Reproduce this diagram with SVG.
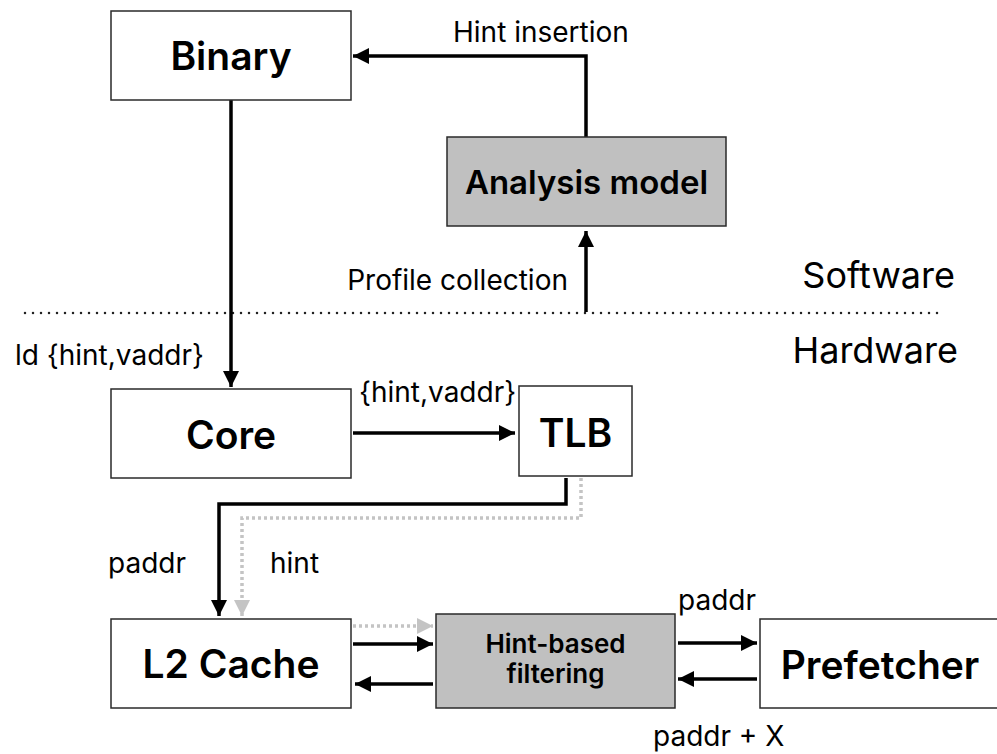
<svg xmlns="http://www.w3.org/2000/svg" width="997" height="754" viewBox="0 0 997 754">
<defs>
<style>
.box{fill:#ffffff;stroke:#2a2a2a;stroke-width:1.5}
.gbox{fill:#c0c0c0;stroke:#2a2a2a;stroke-width:1.5}
.nt{font-family:Inter,"Liberation Sans",sans-serif;font-weight:600;font-size:39px;fill:#000;text-anchor:middle}
.lb{font-family:Inter,"Liberation Sans",sans-serif;font-size:28px;fill:#000}
.big{font-family:Inter,"Liberation Sans",sans-serif;font-size:36px;fill:#000;text-anchor:end}
.ln{fill:none;stroke:#000;stroke-width:3.5}
.gl{fill:none;stroke:#c4c4c4;stroke-width:3.5;stroke-dasharray:3 3}
</style>
<marker id="ah" markerUnits="userSpaceOnUse" markerWidth="18" markerHeight="18" refX="16" refY="8" orient="auto">
<path d="M0,0 L16,8 L0,16 z" fill="#000"/>
</marker>
<marker id="gh" markerUnits="userSpaceOnUse" markerWidth="18" markerHeight="18" refX="16" refY="8" orient="auto">
<path d="M0,0 L16,8 L0,16 z" fill="#c4c4c4"/>
</marker>
</defs>
<rect width="997" height="754" fill="#ffffff"/>

<line x1="25" y1="313" x2="945" y2="313" stroke="#222" stroke-width="2.5" stroke-dasharray="0 8" stroke-linecap="round"/>

<g id="connectors">
<path class="ln" d="M586,137 V56 H353" marker-end="url(#ah)"/>
<path class="ln" d="M231,100 V387" marker-end="url(#ah)"/>
<path class="ln" d="M586,312 V231" marker-end="url(#ah)"/>
<path class="ln" d="M353,433 H515" marker-end="url(#ah)"/>
<path class="ln" d="M566,478 V504 H219 V616" marker-end="url(#ah)"/>
<path class="gl" d="M581,478 V518 H242 V616" marker-end="url(#gh)"/>
<path class="gl" d="M353,626 H433" marker-end="url(#gh)"/>
<path class="ln" d="M353,644 H433" marker-end="url(#ah)"/>
<path class="ln" d="M433,684 H355" marker-end="url(#ah)"/>
<path class="ln" d="M678,643 H757" marker-end="url(#ah)"/>
<path class="ln" d="M757,679 H678" marker-end="url(#ah)"/>
</g>

<g id="labels">
<text class="lb" x="453" y="42">Hint insertion</text>
<text class="lb" x="568" y="290" text-anchor="end">Profile collection</text>
<text class="lb" x="15" y="365">ld {hint,vaddr}</text>
<text class="lb" x="359" y="402">{hint,vaddr}</text>
<text class="lb" x="108" y="573">paddr</text>
<text class="lb" x="270" y="573">hint</text>
<text class="lb" x="678" y="610">paddr</text>
<text class="lb" x="653" y="746">paddr + X</text>
<text class="big" x="955" y="288">Software</text>
<text class="big" x="958" y="363">Hardware</text>
</g>

<g id="binary">
<rect class="box" x="111" y="11" width="240" height="89"/>
<text class="nt" x="231" y="70">Binary</text>
</g>
<g id="analysis">
<rect class="gbox" x="447" y="137" width="279" height="89"/>
<text class="nt" x="586.5" y="194" style="font-size:33px">Analysis model</text>
</g>
<g id="core">
<rect class="box" x="111" y="389" width="240" height="89"/>
<text class="nt" x="231" y="449">Core</text>
</g>
<g id="tlb">
<rect class="box" x="519" y="386" width="113" height="90"/>
<text class="nt" x="575.5" y="447">TLB</text>
</g>
<g id="l2cache">
<rect class="box" x="111" y="619" width="240" height="89"/>
<text class="nt" x="231" y="678">L2 Cache</text>
</g>
<g id="filtering">
<rect class="gbox" x="436" y="614" width="239" height="94"/>
<text class="nt" x="555.5" y="653" style="font-size:26px">Hint-based</text>
<text class="nt" x="555.5" y="683" style="font-size:26px">filtering</text>
</g>
<g id="prefetcher">
<rect class="box" x="760" y="619" width="260" height="89"/>
<text class="nt" x="880" y="679">Prefetcher</text>
</g>
</svg>
